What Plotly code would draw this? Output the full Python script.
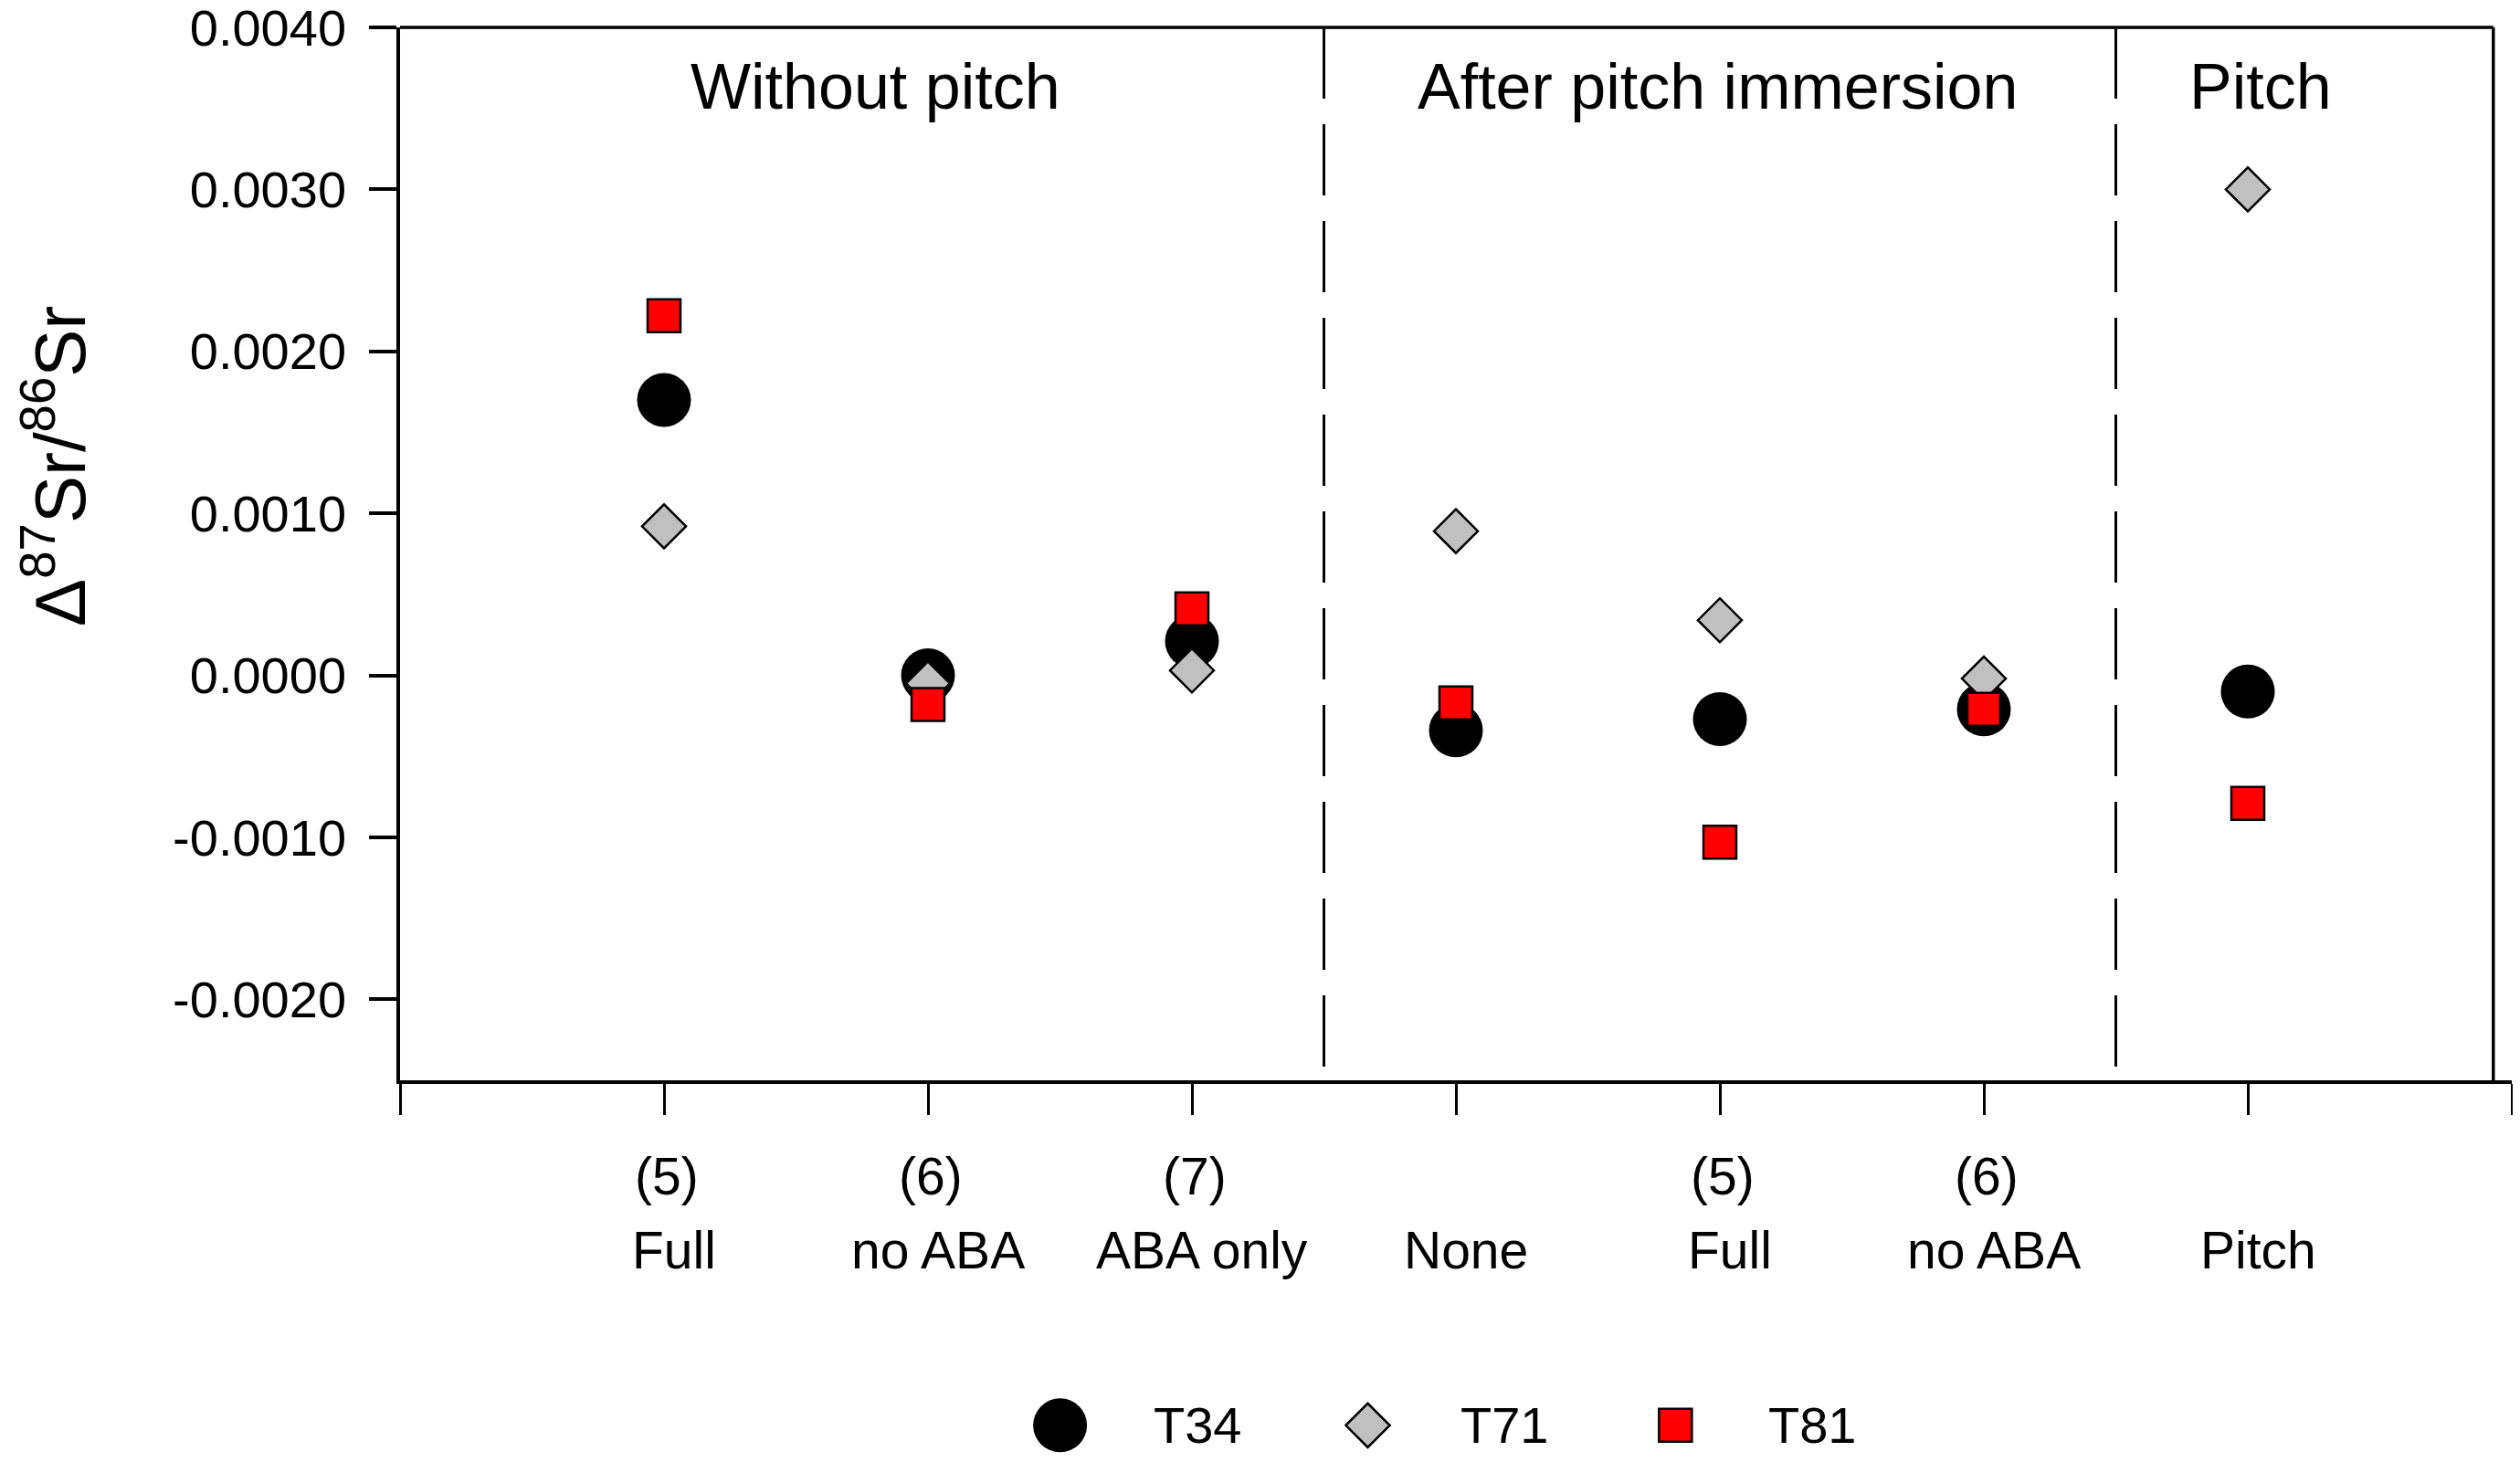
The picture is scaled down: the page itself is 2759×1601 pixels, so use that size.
import plotly.graph_objects as go

# treatment slots on the 0..8 x axis and their two-line labels
positions = [1, 2, 3, 4, 5, 6, 7]
label_top = ["(5)", "(6)", "(7)", "", "(5)", "(6)", ""]
label_bottom = ["Full", "no ABA", "ABA only", "None", "Full", "no ABA", "Pitch"]

# Δ87Sr/86Sr
t34 = [0.00170, 0.00000, 0.00021, -0.00034, -0.00027, -0.00021, -0.00010]
t71 = [0.00092, -0.00005, 0.00003, 0.00089, 0.00034, -0.00002, 0.00300]
t81 = [0.00222, -0.00018, 0.00041, -0.00017, -0.00103, -0.00021, -0.00079]

series_names = ["T34", "T71", "T81"]
group_names = ["Without pitch", "After pitch immersion", "Pitch"]

y_tickvals = [-0.002, -0.001, 0.0, 0.001, 0.002, 0.003, 0.004]
y_ticktext = ["-0.0020", "-0.0010", "0.0000", "0.0010", "0.0020", "0.0030", "0.0040"]

FONT = "Liberation Sans, Arial, sans-serif"
styles = {
    "T34": dict(symbol="circle", size=59, color="black", line=dict(color="black", width=0)),
    "T71": dict(symbol="diamond", size=37, color="#c0c0c0", line=dict(color="black", width=2.5)),
    "T81": dict(symbol="square", size=36, color="#ff0000", line=dict(color="black", width=2.5)),
}

fig = go.Figure()
for name, vals in zip(series_names, [t34, t71, t81]):
    fig.add_trace(go.Scatter(x=positions, y=vals, mode="markers", name=name,
                             marker=styles[name], showlegend=False, cliponaxis=False))

# hand-made legend row on its own small axis so markers keep full size
for name in series_names:
    fig.add_trace(go.Scatter(x=[name], y=[0], mode="markers", marker=styles[name],
                             xaxis="x2", yaxis="y2", showlegend=False, cliponaxis=False))
    fig.add_annotation(x=name, y=0, xref="x2", yref="y2", text=name, showarrow=False,
                       xanchor="left", yanchor="middle", xshift=100,
                       font=dict(size=56, family=FONT, color="black"))

# x tick labels, two lines each
for p, top, bottom in zip(positions, label_top, label_bottom):
    if top:
        fig.add_annotation(x=p, y=0.1889, xref="x", yref="paper", text=top, showarrow=False,
                           xanchor="center", yanchor="middle", xshift=3,
                           font=dict(size=57, family=FONT, color="black"))
    fig.add_annotation(x=p, y=0.1367, xref="x", yref="paper", text=bottom, showarrow=False,
                       xanchor="center", yanchor="middle", xshift=11,
                       font=dict(size=57, family=FONT, color="black"))

# group headers
for name, xc in zip(group_names, [1.80, 4.99, 7.05]):
    fig.add_annotation(x=xc, y=0.958, xref="x", yref="paper", text=name, showarrow=False,
                       xanchor="center", yanchor="middle",
                       font=dict(size=70, family=FONT, color="black"))

# y title
fig.add_annotation(x=-0.163, y=0.69, xref="paper", yref="paper", textangle=-90,
                   xanchor="center", yanchor="middle",
                   text="Δ<sup>87</sup>Sr/<sup>86</sup>Sr", showarrow=False,
                   font=dict(size=78, family=FONT, color="black"))

# frame: top and right borders, dashed group separators
fig.add_shape(type="line", xref="x", yref="paper", x0=0, x1=7.93, y0=1, y1=1,
              line=dict(color="black", width=3.5))
fig.add_shape(type="line", xref="x", yref="paper", x0=7.93, x1=7.93, y0=0.2566, y1=1,
              line=dict(color="black", width=3.5))
for xs in [3.5, 6.5]:
    fig.add_shape(type="line", xref="x", yref="paper", x0=xs, x1=xs, y0=1, y1=0.2566,
                  line=dict(color="black", width=3, dash="78px,28px"))

fig.update_layout(
    width=2743, height=1585,
    margin=dict(l=430, r=1, t=22, b=12, autoexpand=False),
    paper_bgcolor="white", plot_bgcolor="white",
    font=dict(family=FONT, color="black"),
    xaxis=dict(range=[0, 8], domain=[0, 1], tickvals=list(range(9)), showticklabels=False,
               ticks="outside", ticklen=34, tickwidth=3, tickcolor="black",
               showline=True, linecolor="black", linewidth=4, automargin=False,
               showgrid=False, zeroline=False, anchor="y"),
    yaxis=dict(range=[-0.0025, 0.0040001], domain=[0.2566, 1], tickvals=y_tickvals,
               ticktext=y_ticktext, ticks="outside", ticklen=30, tickwidth=3.5,
               tickcolor="black", showline=True, linecolor="black", linewidth=3.5,
               tickfont=dict(size=56, family=FONT, color="black"), ticklabelstandoff=14,
               ticklabeloverflow="allow", automargin=False,
               showgrid=False, zeroline=False, anchor="x"),
    xaxis2=dict(domain=[0.2397, 0.6768], range=[-0.5, 2.5], type="category",
                visible=False, anchor="y2", automargin=False),
    yaxis2=dict(domain=[0, 0.026], range=[-1, 1], visible=False, anchor="x2",
                automargin=False),
)

fig.write_html("out.html")
